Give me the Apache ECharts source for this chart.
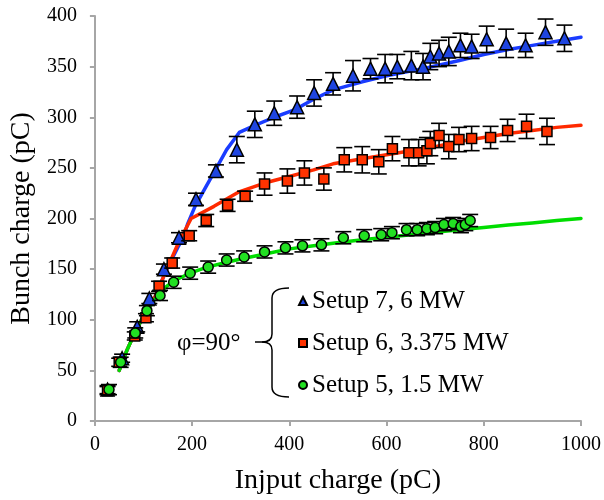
<!DOCTYPE html>
<html><head><meta charset="utf-8">
<script src="https://cdn.jsdelivr.net/npm/echarts@6/dist/echarts.min.js"></script>
<style>html,body{margin:0;padding:0;background:#fff}#c{width:604px;height:500px}</style>
</head><body><div id="c"></div>
<script>
// ---- data ----
const blueX = [26,56,87,112,142,173,208,249,292,329,369,416,451,490,531,567,597,622,651,675,690,708,728,752,775,806,846,886,927,966];
const blueY = [31,62,93,121,150,181,219,247,268,293,304,310,324,333,341,348,348,350,351,350,360,363,365,371,370,377,373,371,384,378];
const blueErr = [4,4,5,5,5,5,6,6,13,13,12,11,13,11,15,10,14,12,14,13,13,13,14,12,12,13,14,12,13,13];

const redX = [26,50,82,105,132,159,194,229,273,309,349,396,431,471,513,550,584,612,646,666,683,690,708,728,749,775,814,849,888,930];
const redY = [30,58,84,102,133,156,183,198,213,222,234,237,245,239,258,258,256,269,265,265,267,274,282,271,278,279,280,287,291,286];
const redErr = [4,4,4,4,5,5,5,6,6,5,11,12,12,11,12,13,12,12,13,13,13,12,12,12,12,12,11,11,12,13];

const greenX = [29,53,83,107,134,162,196,233,271,307,349,392,427,466,511,554,589,611,641,663,683,700,718,737,753,762,772];
const greenY = [31,58,87,109,124,137,146,152,159,162,167,171,173,174,181,183,184,186,189,189,190,191,194,195,192,194,198];
const greenErr = [5,5,5,5,5,6,6,6,6,6,6,6,6,6,6,6,6,6,6,6,6,6,6,6,6,6,6];

const blueFitX = [50,66,83,95,107,124,147,171,181,191,206,228,248,271,297,329,369,409,451,490,550,600,675,750,800,850,900,950,1000];
const blueFitY = [50,70,88,99,108,123,149,172,180,195,212,231,248,268,285,292,300,307,318,327,335,341,348,356,362,367,371,375,379];
const redFitX = [50,66,83,95,107,124,147,171,198,245,295,349,396,450,490,550,600,650,700,750,800,850,900,950,1000];
const redFitY = [50,70,88,99,108,123,149,175,200,212,226,235,241,248,254,259,263,267,271,276,280,284,287,290,292];
const greenFitX = [50,66,83,95,107,118,130,145,161,178,196,213,231,265,300,350,400,450,490,550,600,650,700,750,800,850,900,950,1000];
const greenFitY = [50,70,88,99,108,117,124,132,138,142,146,149,152,156,160,165,170,173,175.5,179,181.5,184,186.5,189,191,193.5,195.5,198,200];

const seriesNames = ['Setup 7, 6 MW','Setup 6, 3.375 MW','Setup 5, 1.5 MW'];
const xTicks = {min:0,max:1000,interval:200};
const yTicks = {min:0,max:400,interval:50};
const annotation = 'φ=90°';

// ---- chart ----
const FONT = 'Liberation Serif';
const zip = (xs, ys) => xs.map((x, i) => [x, ys[i]]);

function errSeries(xs, ys, es, z) {
  return {
    type: 'custom', z: z, silent: true,
    data: xs.map((x, i) => [x, ys[i] - es[i], ys[i] + es[i]]),
    encode: {x: 0, y: [1, 2]},
    renderItem: function (params, api) {
      const x = api.value(0);
      const lo = api.coord([x, api.value(1)]);
      const hi = api.coord([x, api.value(2)]);
      const hw = 8;
      const st = {stroke: '#000', lineWidth: 1.6};
      return {type: 'group', children: [
        {type: 'line', shape: {x1: lo[0], y1: lo[1], x2: hi[0], y2: hi[1]}, style: st},
        {type: 'line', shape: {x1: lo[0] - hw, y1: lo[1], x2: lo[0] + hw, y2: lo[1]}, style: st},
        {type: 'line', shape: {x1: hi[0] - hw, y1: hi[1], x2: hi[0] + hw, y2: hi[1]}, style: st}
      ]};
    }
  };
}
function fitLine(xs, ys, color, z) {
  return {type: 'line', z: z, data: zip(xs, ys), showSymbol: false, symbol: 'none', silent: true,
    lineStyle: {color: color, width: 3.5, join: 'round', cap: 'round'}, smooth: false};
}
function scatter(name, xs, ys, symbol, size, color, z) {
  return {type: 'scatter', name: name, z: z, data: zip(xs, ys), symbol: symbol, symbolSize: size,
    itemStyle: {color: color, borderColor: '#000', borderWidth: 1.5, opacity: 1}};
}

const chart = echarts.init(document.getElementById('c'), null, {renderer: 'canvas'});
const axisLine = {show: true, lineStyle: {color: '#a6a6a6', width: 2}};
const bst = {stroke: '#000', lineWidth: 1.5, fill: null};
chart.setOption({
  animation: false,
  backgroundColor: '#fff',
  grid: {left: 87, right: 21, top: 16, bottom: 79, containLabel: false},
  xAxis: {
    type: 'value', min: xTicks.min, max: xTicks.max, interval: xTicks.interval,
    name: 'Injput charge (pC)', nameLocation: 'middle', nameGap: 46,
    nameTextStyle: {fontFamily: FONT, fontSize: 28, color: '#000'},
    axisLine: axisLine, axisTick: {show: true, inside: false, length: 5, lineStyle: {color: '#a6a6a6', width: 2}},
    axisLabel: {fontFamily: FONT, fontSize: 20, color: '#000', margin: 14, formatter: v => String(v)},
    splitLine: {show: false}
  },
  yAxis: {
    type: 'value', min: yTicks.min, max: yTicks.max, interval: yTicks.interval,
    name: 'Bunch charge (pC)', nameLocation: 'middle', nameGap: 52,
    nameTextStyle: {fontFamily: FONT, fontSize: 28, color: '#000'},
    axisLine: axisLine, axisTick: {show: true, inside: false, length: 5, lineStyle: {color: '#a6a6a6', width: 2}},
    axisLabel: {fontFamily: FONT, fontSize: 20, color: '#000', margin: 18, formatter: v => String(v)},
    splitLine: {show: false}
  },
  legend: {
    data: seriesNames, orient: 'vertical', left: 298, top: 287,
    itemWidth: 8, itemHeight: 8, itemGap: 14, padding: 0,
    textStyle: {fontFamily: FONT, fontSize: 25, color: '#000', lineHeight: 28}
  },
  graphic: [
    {type: 'text', left: 177, top: 331, silent: true,
      style: {text: annotation, font: '25px "Liberation Serif"', fill: '#000'}},
    {type: 'group', silent: true, children: [
      {type: 'bezierCurve', shape: {x1: 289, y1: 288, x2: 272, y2: 298, cpx1: 272, cpy1: 288}, style: bst},
      {type: 'line', shape: {x1: 272, y1: 298, x2: 272, y2: 334}, style: bst},
      {type: 'bezierCurve', shape: {x1: 272, y1: 334, x2: 262, y2: 342, cpx1: 272, cpy1: 342}, style: bst},
      {type: 'line', shape: {x1: 262, y1: 342, x2: 255, y2: 342}, style: bst},
      {type: 'bezierCurve', shape: {x1: 262, y1: 342, x2: 272, y2: 350, cpx1: 272, cpy1: 342}, style: bst},
      {type: 'line', shape: {x1: 272, y1: 350, x2: 272, y2: 387}, style: bst},
      {type: 'bezierCurve', shape: {x1: 272, y1: 387, x2: 289, y2: 397, cpx1: 272, cpy1: 397}, style: bst}
    ]}
  ],
  series: [
    fitLine(blueFitX, blueFitY, '#1a3cff', 1),
    fitLine(redFitX, redFitY, '#ff2a00', 2),
    fitLine(greenFitX, greenFitY, '#00dd00', 3),
    errSeries(blueX, blueY, blueErr, 4),
    scatter(seriesNames[0], blueX, blueY, 'triangle', 13, '#1f45e0', 5),
    errSeries(redX, redY, redErr, 6),
    scatter(seriesNames[1], redX, redY, 'rect', 10, '#ff3300', 7),
    errSeries(greenX, greenY, greenErr, 8),
    scatter(seriesNames[2], greenX, greenY, 'circle', 10, '#22e022', 9)
  ]
});
</script></body></html>
